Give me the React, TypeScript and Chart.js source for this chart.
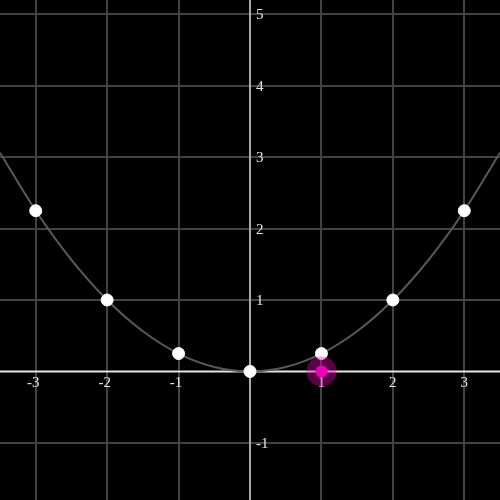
import React, { useEffect, useRef } from "react";
import { Chart, registerables } from "chart.js";

Chart.register(...registerables);

// Parabola samples (x, y)
const curveX = [-3.5, -3, -2.5, -2, -1.5, -1, -0.5, 0, 0.5, 1, 1.5, 2, 2.5, 3, 3.5];
const curveY = [3.0625, 2.25, 1.5625, 1, 0.5625, 0.25, 0.0625, 0, 0.0625, 0.25, 0.5625, 1, 1.5625, 2.25, 3.0625];

// White marker points
const pointX = [-3, -2, -1, 0, 1, 2, 3];
const pointY = [2.25, 1, 0.25, 0, 0.25, 1, 2.25];

// Highlighted point
const highlightX = [1];
const highlightY = [0];

// Tick labels
const xTickLabels = [-3, -2, -1, 1, 2, 3];
const yTickLabels = [-1, 1, 2, 3, 4, 5];

const X_MIN = -3.5;
const X_MAX = 3.5;
const Y_MIN = -1.8;
const Y_MAX = 5.2;

const FONT = '15px "Liberation Serif", "DejaVu Serif", serif';

const axesPlugin = {
  id: "axesPlugin",
  beforeDatasetsDraw(chart: any) {
    const ctx = chart.ctx;
    const xs = chart.scales.x;
    const ys = chart.scales.y;
    const area = chart.chartArea;
    const x0 = xs.getPixelForValue(0);
    const y0 = ys.getPixelForValue(0);
    ctx.save();
    // y axis
    ctx.strokeStyle = "#a8a8a8";
    ctx.lineWidth = 2;
    ctx.beginPath();
    ctx.moveTo(x0, area.top);
    ctx.lineTo(x0, area.bottom);
    ctx.stroke();
    // x axis
    ctx.strokeStyle = "#e6e6e6";
    ctx.lineWidth = 2;
    ctx.beginPath();
    ctx.moveTo(area.left, y0);
    ctx.lineTo(area.right, y0);
    ctx.stroke();
    // labels
    ctx.font = FONT;
    ctx.fillStyle = "#e8e8e8";
    ctx.textBaseline = "middle";
    ctx.textAlign = "right";
    for (const v of xTickLabels) {
      const px = xs.getPixelForValue(v);
      const absW = ctx.measureText(String(Math.abs(v))).width;
      ctx.fillText(String(v), px + absW / 2, y0 + 12);
    }
    ctx.textAlign = "left";
    for (const v of yTickLabels) {
      const py = ys.getPixelForValue(v);
      ctx.fillText(String(v), x0 + 6, py + 1);
    }
    ctx.restore();
  },
};

export default function App() {
  const ref = useRef<HTMLCanvasElement | null>(null);

  useEffect(() => {
    document.body.style.margin = "0";
    document.body.style.background = "#000";
    const canvas = ref.current;
    if (!canvas) return;
    const toPts = (xs: number[], ys: number[]) => xs.map((x, i) => ({ x, y: ys[i] }));
    const chart = new Chart(canvas, {
      type: "scatter",
      data: {
        datasets: [
          {
            data: toPts(highlightX, highlightY),
            pointRadius: 6,
            pointBackgroundColor: "rgb(235,0,185)",
            pointBorderWidth: 0,
            order: 1,
          } as any,
          {
            data: toPts(highlightX, highlightY),
            pointRadius: 15,
            pointBackgroundColor: "rgba(235,0,185,0.38)",
            pointBorderWidth: 0,
            order: 2,
          } as any,
          {
            data: toPts(pointX, pointY),
            pointRadius: 6,
            pointBackgroundColor: "#ffffff",
            pointBorderColor: "#ffffff",
            pointBorderWidth: 1,
            order: 3,
          } as any,
          {
            data: toPts(curveX, curveY),
            showLine: true,
            pointRadius: 0,
            borderColor: "#5a5a5a",
            borderWidth: 2,
            cubicInterpolationMode: "monotone",
            order: 4,
          } as any,
        ],
      },
      options: {
        animation: false,
        responsive: false,
        events: [],
        layout: { padding: 0, autoPadding: false },
        plugins: { legend: { display: false }, tooltip: { enabled: false } },
        scales: {
          x: {
            type: "linear",
            min: X_MIN,
            max: X_MAX,
            ticks: { display: false },
            grid: { color: "#434343", lineWidth: 2, drawTicks: false },
            border: { display: false },
            afterBuildTicks: (scale: any) => {
              scale.ticks = xTickLabels.map((v) => ({ value: v }));
            },
          },
          y: {
            type: "linear",
            min: Y_MIN,
            max: Y_MAX,
            ticks: { display: false },
            grid: { color: "#434343", lineWidth: 2, drawTicks: false },
            border: { display: false },
            afterBuildTicks: (scale: any) => {
              scale.ticks = yTickLabels.map((v) => ({ value: v }));
            },
          },
        },
      } as any,
      plugins: [axesPlugin],
    });
    return () => chart.destroy();
  }, []);

  return (
    <div style={{ position: "fixed", left: 0, top: 0, width: 500, height: 500, background: "#000" }}>
      <canvas ref={ref} width={500} height={500} style={{ display: "block" }} />
    </div>
  );
}
